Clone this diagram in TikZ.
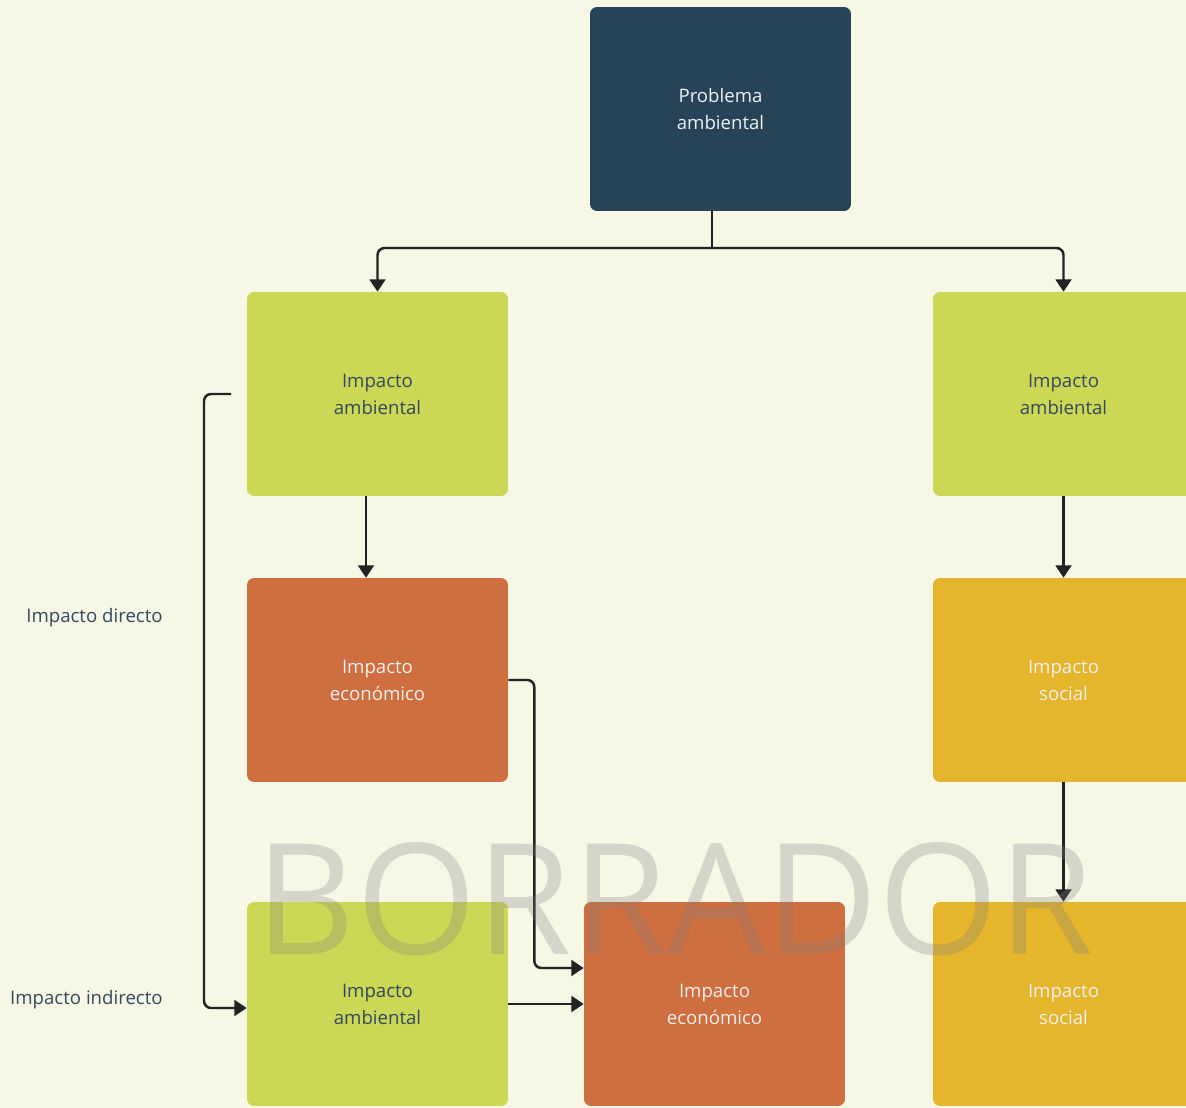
\documentclass[tikz,border=0pt]{standalone}
\usepackage{fontspec}
\setmainfont{Open Sans}
\usetikzlibrary{arrows.meta,positioning}
\definecolor{bgColor}{HTML}{F7F7E6}
\definecolor{probColor}{HTML}{264358}
\definecolor{ambColor}{HTML}{CBD755}
\definecolor{ecoColor}{HTML}{CF6E3E}
\definecolor{socColor}{HTML}{E5B52B}
\definecolor{lblColor}{HTML}{34495E}
\definecolor{lineColor}{HTML}{222222}
\tikzset{
	box/.style={rounded corners=1.4mm, minimum width=5.22cm, minimum height=4.08cm,
		inner sep=0pt, align=center, text=white!94!black, font=\fontsize{10.6}{15.3}\selectfont},
	conn/.style={draw=lineColor, line width=1.4pt, rounded corners=1.4mm,
		-{Triangle[width=9pt,length=7pt]}},
	lbl/.style={text=lblColor, font=\fontsize{10.6}{13}\selectfont, inner sep=0pt},
	wmark/.style={text=gray, text opacity=0.28, inner sep=0pt, font=\fontsize{88}{88}\selectfont}
}

\begin{document}
\begin{tikzpicture}[x=0.02cm, y=-0.02cm]
	\useasboundingbox (0,0) rectangle (1186,1108);
	\clip (0,0) rectangle (1186,1108);
	\fill[bgColor] (0,0) rectangle (1186,1108);
	
	\node[box, fill=probColor] (prob) at (720.5,109) {Problema\\ambiental};
	\node[box, fill=ambColor, text=lblColor] (amb1) at (377.5,394) {Impacto\\ambiental};
	\node[box, fill=ambColor, text=lblColor] (amb2) at (1063.5,394) {Impacto\\ambiental};
	\node[box, fill=ecoColor] (eco1) at (377.5,680) {Impacto\\económico};
	\node[box, fill=socColor] (soc1) at (1063.5,680) {Impacto\\social};
	\node[box, fill=ambColor, text=lblColor] (amb3) at (377.5,1004) {Impacto\\ambiental};
	\node[box, fill=ecoColor] (eco3) at (714.5,1004) {Impacto\\económico};
	\node[box, fill=socColor] (soc3) at (1063.5,1004) {Impacto\\social};
	
	\node[lbl, anchor=east] (lblDir) at (163,618) {Impacto directo};
	\node[lbl, anchor=east] (lblInd) at (163,1000) {Impacto indirecto};
	
	% split below the problem box
	\coordinate (split) at (712,248);
	\coordinate (loopStart) at (231,394);
	\draw[conn, -] (prob.south -| split) -- (split);
	\draw[conn] (split) -| (amb1);
	\draw[conn] (split) -| (amb2);
	\draw[conn] (amb1.south -| 366,0) -- (eco1.north -| 366,0);
	\draw[conn] (amb2) -- (soc1);
	\draw[conn] (soc1) -- (soc3);
	\draw[conn] (eco1.east) -- ++(26,0) |- ([yshift=0.72cm]eco3.west);
	\draw[conn] (amb3.east) -- (eco3.west);
	\draw[conn] (loopStart) -- ++(-27,0) |- ([yshift=-0.08cm]amb3.west);
	
	\node[wmark] (wm) at (675,899) {BORRADOR};
\end{tikzpicture}
\end{document}
